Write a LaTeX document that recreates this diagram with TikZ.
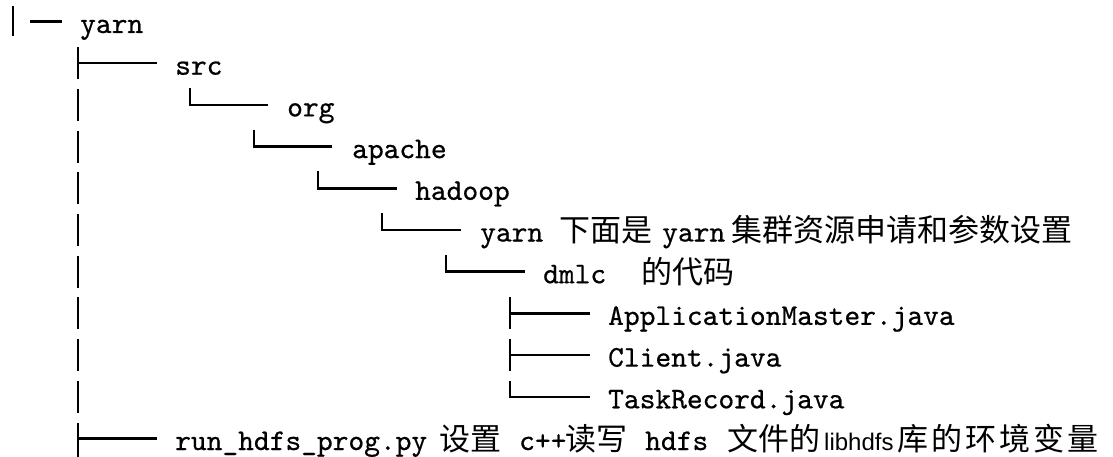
\documentclass[tikz,border=0pt]{standalone}
\usepackage{fontspec}
\newfontfamily\cjk{Noto Sans CJK SC}
\newfontfamily\cjkwide[LetterSpace=10]{Noto Sans CJK SC}
\newfontfamily\libfont{Liberation Sans}
\newfontfamily\treefont[FakeBold=0.6]{lmmono10-regular.otf}
\usetikzlibrary{positioning}

\begin{document}
\begin{tikzpicture}[x=1pt, y=1pt,
  br/.style={line width=2.6pt},
  lbl/.style={anchor=base west, inner sep=0pt,
    font=\fontsize{30}{30}\selectfont\treefont},
  cmt/.style={anchor=base west, inner sep=0pt,
    font=\fontsize{31}{31}\selectfont\cjk}]
\useasboundingbox (0,0) rectangle (1113,-457);

% top entry
\draw[br] (13,-6) -- (13,-36);
\draw[br] (30,-21.5) -- (62,-21.5);
\node[lbl] (yarn) at (80,-33) {yarn};

% first level
\node[lbl] (src) at (175,-74.7) {src};
\draw[br] (78,-47.2) -- (78,-79.2) (78,-63.2) -- (157,-63.2);
\foreach \r in {3,...,10}
  \draw[br] (78,{-21.5-41.7*(\r-1)+16}) -- ++(0,-32);

% nested dirs
\node[lbl] (org) at (287,-116.4) {org};
\draw[br] (190,-87.9) |- (268,-104.9);
\node[lbl] (apache) at (352,-158.1) {apache};
\draw[br] (254,-129.6) |- (332,-146.6);
\node[lbl] (hadoop) at (415,-199.8) {hadoop};
\draw[br] (318,-171.3) |- (397,-188.3);
\node[lbl] (yarn2) at (480,-241.5) {yarn};
\draw[br] (382,-213.0) |- (461,-230.0);
\node[lbl] (dmlc) at (543,-283.2) {dmlc};
\draw[br] (446,-254.7) |- (525,-271.7);

% java files
\node[lbl] (am) at (608,-324.9) {ApplicationMaster.java};
\draw[br] (510,-297.4) -- (510,-329.4) (510,-313.4) -- (590,-313.4);
\node[lbl] (client) at (608,-366.6) {Client.java};
\draw[br] (510,-339.1) -- (510,-371.1) (510,-355.1) -- (590,-355.1);
\node[lbl] (task) at (608,-408.3) {TaskRecord.java};
\draw[br] (510,-380.8) |- (590,-396.8);

% script
\node[lbl] (run) at (175,-450) {run\_hdfs\_prog.py};
\draw[br] (78,-422.5) -- (78,-457) (78,-438.5) -- (157,-438.5);

% comments
\node[cmt] (c6a) at (559,-241.5) {下面是};
\node[lbl] (c6b) at (662,-241.5) {yarn};
\node[cmt] (c6c) at (731,-241.5) {集群资源申请和参数设置};
\node[cmt] (c7a) at (641,-283.2) {的代码};
\node[cmt] (c11a) at (439,-450) {设置};
\node[lbl] (c11b) at (519,-450) {c++};
\node[cmt] (c11c) at (565,-450) {读写};
\node[lbl] (c11d) at (645,-450) {hdfs};
\node[cmt] (c11e) at (727,-450) {文件的};
\node[anchor=base west, inner sep=0pt,
  font=\fontsize{24}{24}\selectfont\libfont] (c11f) at (824,-450) {libhdfs};
\node[anchor=base west, inner sep=0pt,
  font=\fontsize{31}{31}\selectfont\cjkwide] (c11g) at (897,-450) {库的环境变量};
\end{tikzpicture}
\end{document}
